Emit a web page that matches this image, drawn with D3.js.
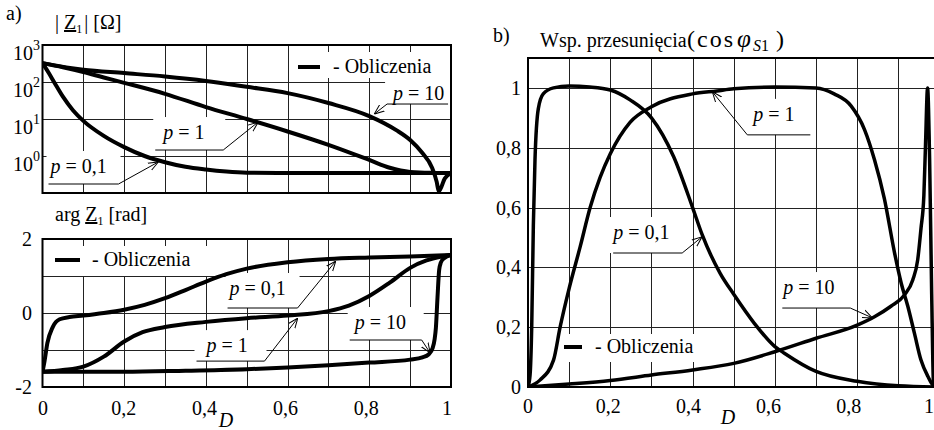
<!DOCTYPE html>
<html lang="pl">
<head>
<meta charset="UTF-8" />
<title>Impedancja i wsp. przesuniecia</title>
<script src="https://d3js.org/d3.v7.min.js"></script>
<style>
  body { margin: 0; background: #fff; }
  svg text { font-family: "Liberation Serif", "Times New Roman", serif; font-size: 20px; fill: #000; }
</style>
</head>
<body>
<svg width="934" height="430"></svg>
<script>
// x axis: duty cycle D, shared by all panels
const dTicks = [0, 0.2, 0.4, 0.6, 0.8, 1];
const dTickLabels = ["0", "0,2", "0,4", "0,6", "0,8", "1"];
const dGrid = [0.1, 0.2, 0.3, 0.4, 0.5, 0.6, 0.7, 0.8, 0.9];

// |Z1| [Ohm] (log axis)
const magTicks = [1, 10, 100, 1000];
const magExponents = ["0", "1", "2", "3"];
const magGrid = [1, 10, 100];
const magP01 = [[0, 324], [0.015, 178], [0.03, 93], [0.05, 40], [0.075, 17], [0.1, 8.9], [0.15, 3.5], [0.2, 1.74], [0.25, 1.0], [0.3, 0.68], [0.35, 0.51], [0.4, 0.43], [0.45, 0.38], [0.5, 0.355], [0.6, 0.347], [1, 0.347]];
const magP1 = [[0, 324], [0.05, 250], [0.1, 186], [0.15, 132], [0.2, 95], [0.3, 48], [0.4, 21], [0.5, 10], [0.6, 4.6], [0.7, 2.0], [0.8, 0.78], [0.85, 0.48], [0.9, 0.37], [0.95, 0.35], [1, 0.347]];
const magP10 = [[0, 324], [0.1, 214], [0.2, 174], [0.3, 141], [0.4, 107], [0.5, 74], [0.6, 50], [0.7, 27], [0.8, 12], [0.866, 5.0], [0.9, 2.7], [0.93, 1.2], [0.953, 0.5], [0.965, 0.2], [0.97, 0.112], [0.985, 0.25], [1, 0.347]];

// arg Z1 [rad]
const argTicks = [-2, 0, 2];
const argTickLabels = ["-2", "0", "2"];
const argGrid = [-1, 0, 1];
const argP01 = [[0, -1.59], [0.005, -1.3], [0.012, -0.81], [0.025, -0.38], [0.042, -0.17], [0.066, -0.11], [0.1, -0.07], [0.15, 0.0], [0.2, 0.09], [0.25, 0.22], [0.3, 0.4], [0.35, 0.62], [0.4, 0.85], [0.45, 1.05], [0.5, 1.2], [0.6, 1.37], [0.7, 1.46], [0.8, 1.5], [0.9, 1.53], [1, 1.57]];
const argP1 = [[0, -1.59], [0.05, -1.54], [0.1, -1.45], [0.15, -1.18], [0.2, -0.77], [0.245, -0.52], [0.3, -0.38], [0.4, -0.24], [0.5, -0.14], [0.6, -0.07], [0.7, 0.05], [0.75, 0.2], [0.8, 0.46], [0.85, 0.82], [0.9, 1.22], [0.94, 1.42], [0.98, 1.53], [1, 1.57]];
const argP10 = [[0, -1.59], [0.2, -1.59], [0.35, -1.56], [0.5, -1.52], [0.6, -1.47], [0.7, -1.41], [0.8, -1.34], [0.9, -1.26], [0.93, -1.2], [0.945, -1.12], [0.955, -0.95], [0.96, -0.7], [0.963, -0.4], [0.967, 0.43], [0.971, 1.16], [0.975, 1.36], [0.983, 1.48], [1, 1.57]];

// cos phi_S1
const cosTicks = [0, 0.2, 0.4, 0.6, 0.8, 1];
const cosTickLabels = ["0", "0,2", "0,4", "0,6", "0,8", "1"];
const cosGrid = [0.2, 0.4, 0.6, 0.8, 1];
const cosP01 = [[0, 0], [0.005, 0.04], [0.009, 0.2], [0.013, 0.54], [0.017, 0.76], [0.025, 0.93], [0.037, 0.98], [0.062, 1.0], [0.1, 1.006], [0.15, 1.003], [0.2, 0.993], [0.248, 0.96], [0.3, 0.9], [0.354, 0.77], [0.4, 0.6], [0.423, 0.51], [0.467, 0.38], [0.5, 0.31], [0.55, 0.213], [0.6, 0.135], [0.623, 0.113], [0.7, 0.052], [0.8, 0.019], [0.9, 0.004], [1, 0]];
const cosP1 = [[0, 0], [0.029, 0.023], [0.062, 0.09], [0.078, 0.2], [0.1, 0.33], [0.127, 0.47], [0.151, 0.6], [0.175, 0.7], [0.2, 0.78], [0.248, 0.885], [0.3, 0.937], [0.4, 0.98], [0.459, 0.99], [0.5, 0.997], [0.6, 1.003], [0.7, 1.0], [0.744, 0.98], [0.785, 0.94], [0.818, 0.86], [0.842, 0.76], [0.866, 0.63], [0.891, 0.447], [0.907, 0.347], [0.923, 0.27], [0.939, 0.18], [0.955, 0.09], [0.972, 0.035], [0.984, 0.007], [1, 0]];
const cosP10 = [[0, 0], [0.1, 0.01], [0.2, 0.022], [0.3, 0.04], [0.4, 0.057], [0.5, 0.079], [0.6, 0.118], [0.7, 0.163], [0.8, 0.207], [0.842, 0.235], [0.882, 0.27], [0.915, 0.308], [0.935, 0.358], [0.947, 0.425], [0.955, 0.53], [0.962, 0.64], [0.966, 0.81], [0.971, 1.0], [0.976, 0.76], [0.981, 0.31], [0.986, 0], [1, 0]];

// scales
const xA = d3.scaleLinear().domain([0, 1]).range([42.5, 451]);
const xALabel = d3.scaleLinear().domain([0, 1]).range([43, 447]); // tick text sits a bit left of the grid
const yMag = d3.scaleLog().domain([0.1, 1000]).range([193, 45]);
const yArg = d3.scaleLinear().domain([-2, 2]).range([387, 239]);
const xB = d3.scaleLinear().domain([0, 1]).range([528, 939.5]);
const xBLabel = d3.scaleLinear().domain([0, 1]).range([528, 929]);
const yCos = d3.scaleLinear().domain([0, 1.1]).range([387, 58]);

const svg = d3.select("svg");
const defs = svg.append("defs");
defs.append("marker")
  .attr("id", "arrow")
  .attr("viewBox", "0 0 10 10")
  .attr("refX", 10).attr("refY", 5)
  .attr("markerWidth", 10).attr("markerHeight", 10)
  .attr("markerUnits", "userSpaceOnUse")
  .attr("orient", "auto")
  .append("path")
  .attr("d", "M0,1L10,5L0,9")
  .attr("fill", "none").attr("stroke", "#000").attr("stroke-width", 1);

function drawPanel(p) {
  const [x0, x1] = p.x.range(), [y0, y1] = p.y.range();
  const g = svg.append("g");

  // grid
  g.append("g").attr("transform", "translate(0," + y0 + ")")
    .call(d3.axisBottom(p.x).tickValues(dGrid).tickSize(y1 - y0).tickFormat(""));
  g.append("g").attr("transform", "translate(" + x0 + ",0)")
    .call(d3.axisLeft(p.y).tickValues(p.grid).tickSize(x0 - x1).tickFormat(""));
  g.selectAll(".domain").remove();
  g.selectAll(".tick line").attr("stroke", "#222").attr("shape-rendering", "crispEdges");

  const boxes = g.append("g");
  const clip = "clip" + p.id;
  defs.append("clipPath").attr("id", clip).append("rect")
    .attr("x", x0).attr("y", y1).attr("width", x1 - x0).attr("height", y0 - y1);

  const line = d3.line().x(d => p.x(d[0])).y(d => p.y(d[1])).curve(d3.curveMonotoneX);
  g.append("g").attr("clip-path", "url(#" + clip + ")")
    .selectAll("path").data(p.series).join("path")
    .attr("d", line)
    .attr("fill", "none").attr("stroke", "#000")
    .attr("stroke-width", p.lw).attr("stroke-linejoin", "round");

  g.append("rect").attr("x", x0).attr("y", y1).attr("width", x1 - x0).attr("height", y0 - y1)
    .attr("fill", "none").attr("stroke", "#000").attr("stroke-width", 2);

  const notes = g.append("g");
  p.notes.forEach(n => {
    const lx = p.x(n.at[0]), ly = p.y(n.at[1]);
    const tx = p.x(n.tip[0]), ty = p.y(n.tip[1]);
    const t = notes.append("text").attr("x", lx + n.dx).attr("y", ly + n.dy);
    t.append("tspan").attr("font-style", "italic").text("p");
    t.append("tspan").text(" = " + n.label);
    const bb = t.node().getBBox();
    const left = Math.min(bb.x, lx) - 2, right = Math.max(bb.x + bb.width, lx + n.len) + 2;
    boxes.append("rect").attr("x", left).attr("y", bb.y - 4)
      .attr("width", right - left).attr("height", ly - bb.y + 4).attr("fill", "#fff");
    const sx = n.side === "right" ? lx : lx + n.len;
    const ex = n.side === "right" ? lx + n.len : lx;
    notes.append("path").attr("d", "M" + sx + "," + ly + "H" + ex + "L" + tx + "," + ty)
      .attr("fill", "none").attr("stroke", "#000").attr("stroke-width", 1)
      .attr("marker-end", "url(#arrow)");
  });

  const L = p.legend;
  const lg = notes.append("g");
  lg.append("line").attr("x1", L.x).attr("x2", L.x + L.len).attr("y1", L.y).attr("y2", L.y)
    .attr("stroke", "#000").attr("stroke-width", 4);
  lg.append("text").attr("x", L.x + L.len + L.gap).attr("y", L.y + 6).text("- Obliczenia");
  const lb = lg.node().getBBox();
  boxes.append("rect").attr("x", lb.x - L.pad[0]).attr("y", lb.y - L.pad[1])
    .attr("width", lb.width + L.pad[0] + L.pad[2]).attr("height", lb.height + L.pad[1] + L.pad[3])
    .attr("fill", "#fff");
}

drawPanel({
  id: "mag", x: xA, y: yMag, grid: magGrid, lw: 4,
  series: [magP01, magP1, magP10],
  notes: [
    { label: "10", at: [0.8435, 25.4], len: 61, tip: [0.812, 13.6], side: "left", dx: 6, dy: -4 },
    { label: "1", at: [0.276, 1.45], len: 68, tip: [0.528, 8.3], side: "right", dx: 8, dy: -11 },
    { label: "0,1", at: [0.0147, 0.175], len: 70, tip: [0.2836, 0.69], side: "right", dx: 2, dy: -11 }
  ],
  legend: { x: 298, y: 67, len: 22, gap: 13, pad: [6, 3, 8, 1] }
});

drawPanel({
  id: "arg", x: xA, y: yArg, grid: argGrid, lw: 4,
  series: [argP01, argP1, argP10],
  notes: [
    { label: "0,1", at: [0.453, 0.135], len: 70, tip: [0.718, 1.405], side: "right", dx: 2, dy: -13 },
    { label: "1", at: [0.377, -1.30], len: 68, tip: [0.625, -0.135], side: "right", dx: 10, dy: -9 },
    { label: "10", at: [0.752, -0.73], len: 72, tip: [0.949, -1.08], side: "right", dx: 5, dy: -11 }
  ],
  legend: { x: 55, y: 260, len: 25, gap: 12, pad: [7, 2, 17, 6] }
});

drawPanel({
  id: "cos", x: xB, y: yCos, grid: cosGrid, lw: 3.5,
  series: [cosP01, cosP1, cosP10],
  notes: [
    { label: "1", at: [0.533, 0.843], len: 63, tip: [0.448, 0.987], side: "left", dx: 6, dy: -14 },
    { label: "0,1", at: [0.207, 0.448], len: 69, tip: [0.423, 0.502], side: "right", dx: 0, dy: -14 },
    { label: "10", at: [0.618, 0.264], len: 68, tip: [0.837, 0.231], side: "right", dx: 1, dy: -14 }
  ],
  legend: { x: 564, y: 347, len: 18, gap: 13, pad: [8, 1, 2, 5] }
});

// tick labels
const labels = svg.append("g");
magTicks.forEach((v, i) => {
  const t = labels.append("text").attr("x", 40).attr("y", yMag(v) + 15).attr("text-anchor", "end");
  t.append("tspan").text("10");
  t.append("tspan").attr("font-size", 14).attr("dy", -10).text(magExponents[i]);
});
argTicks.forEach((v, i) => {
  labels.append("text").attr("x", 32).attr("y", yArg(v) + 7).attr("text-anchor", "end").text(argTickLabels[i]);
});
dTicks.forEach((v, i) => {
  labels.append("text").attr("x", xALabel(v)).attr("y", 415).attr("text-anchor", "middle").text(dTickLabels[i]);
  labels.append("text").attr("x", xBLabel(v)).attr("y", 413).attr("text-anchor", "middle").text(dTickLabels[i]);
});
cosTicks.forEach((v, i) => {
  labels.append("text").attr("x", 521).attr("y", yCos(v) + 7).attr("text-anchor", "end").text(cosTickLabels[i]);
});
labels.append("text").attr("x", 226).attr("y", 427).attr("text-anchor", "middle").attr("font-style", "italic").text("D");
labels.append("text").attr("x", 728).attr("y", 424).attr("text-anchor", "middle").attr("font-style", "italic").text("D");

// titles
svg.append("text").attr("x", 6).attr("y", 20).text("a)");
const tMag = svg.append("text").attr("x", 55).attr("y", 29);
tMag.append("tspan").text("| ");
tMag.append("tspan").attr("text-decoration", "underline").text("Z");
tMag.append("tspan").attr("font-size", 12).attr("dy", 4).text("1");
tMag.append("tspan").attr("dy", -4).attr("dx", 2).text("| [Ω]");

const tArg = svg.append("text").attr("x", 55).attr("y", 221);
tArg.append("tspan").text("arg ");
tArg.append("tspan").attr("text-decoration", "underline").text("Z");
tArg.append("tspan").attr("font-size", 12).attr("dy", 4).text("1");
tArg.append("tspan").attr("dy", -4).text(" [rad]");

svg.append("text").attr("x", 493).attr("y", 42).text("b)");
const tCos = svg.append("text").attr("x", 540).attr("y", 47);
tCos.append("tspan").text("Wsp. przesunięcia");
tCos.append("tspan").attr("x", 687).attr("font-size", 24).attr("letter-spacing", 2).text("(cos");
tCos.append("tspan").attr("x", 737).attr("font-style", "italic").attr("font-size", 25).text("φ");
tCos.append("tspan").attr("x", 753).attr("dy", 4).attr("font-style", "italic").attr("font-size", 16).text("S");
tCos.append("tspan").attr("font-size", 16).text("1");
tCos.append("tspan").attr("x", 776).attr("dy", -4).attr("font-size", 24).text(")");
</script>
</body>
</html>
